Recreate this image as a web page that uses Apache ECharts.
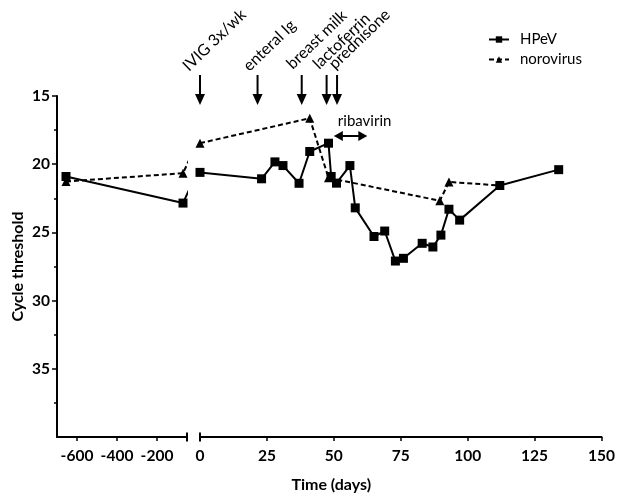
<!DOCTYPE html>
<html>
<head>
<meta charset="utf-8">
<script src="https://cdn.jsdelivr.net/npm/echarts@6/dist/echarts.min.js"></script>
<style>
html,body{margin:0;padding:0;background:#fff;}
#c{width:618px;height:496px;}
</style>
</head>
<body>
<div id="c"></div>
<script>
// ---- data ----
const hpevDays = [-655, -70, 0, 23, 28, 31, 37, 41, 48, 49, 51, 56, 58, 65, 69, 73, 76, 83, 87, 90, 93, 97, 112, 134];
const hpevCt   = [20.9, 22.85, 20.6, 21.07, 19.83, 20.1, 21.4, 19.07, 18.46, 20.9, 21.39, 20.1, 23.2, 25.3, 24.9, 27.1, 26.9, 25.8, 26.07, 25.2, 23.3, 24.1, 21.56, 20.4];
const noroDays = [-655, -70, 0, 41, 48, 89.6, 93, 112];
const noroCt   = [21.27, 20.66, 18.46, 16.63, 21.0, 22.68, 21.3, 21.56];
const leftTicks  = [-600, -400, -200];
const yLabels    = [15, 20, 25, 30, 35];
const eventLabels = ['IVIG 3x/wk', 'enteral Ig', 'breast milk', 'lactoferrin', 'prednisone'];
const eventDays   = [0, 21.5, 38, 47.3, 51.2];
const ribavirinDays = [50, 62.5];

// ---- layout ----
const FONT = 'Lato';
const labelDx = [-9, -6, -7, -5.5, 0];
const labelY  = [74, 74, 72, 72, 72];

function toPts(days, ct) { return days.map((d, i) => [d, ct[i]]); }
function leftPart(pts) {
  const firstRight = pts.findIndex(p => p[0] >= 0);
  return pts.slice(0, firstRight + 1);
}
function rightPart(pts) { return pts.filter(p => p[0] >= 0); }

const hpevPts = toPts(hpevDays, hpevCt);
const noroPts = toPts(noroDays, noroCt);

const chart = echarts.init(document.getElementById('c'), null, {renderer: 'canvas'});

const axisLineStyle = {color: '#000', width: 2};
const labelStyle = {color: '#000', fontWeight: 'bold', fontSize: 15.5, fontFamily: FONT};

function yAxisDef(idx, show) {
  return {
    type: 'value', gridIndex: idx, min: 15, max: 40, interval: 5, inverse: true,
    show: show,
    name: show ? 'Cycle threshold' : '',
    nameLocation: 'middle', nameGap: 31,
    nameTextStyle: {color: '#000', fontWeight: 'bold', fontSize: 16, fontFamily: FONT},
    axisLine: {show: true, lineStyle: axisLineStyle},
    axisTick: {show: true, length: 5, customValues: yLabels, lineStyle: {color: '#000', width: 1.5}},
    minorTick: {show: true, splitNumber: 2, length: 3, lineStyle: {color: '#000', width: 1.5}},
    axisLabel: Object.assign({customValues: yLabels, margin: 7}, labelStyle),
    splitLine: {show: false}
  };
}

const solid = {color: '#000', width: 2};
const dashed = {color: '#000', width: 2, type: [5, 3]};

function series(name, data, idx, sym, ls) {
  return {
    name: name, type: 'line', xAxisIndex: idx, yAxisIndex: idx, data: data,
    symbol: sym, symbolSize: 9,
    showSymbol: true, clip: true, animation: false,
    lineStyle: ls, itemStyle: {color: '#000'},
    emphasis: {disabled: true}
  };
}

const option = {
  animation: false,
  backgroundColor: '#fff',
  grid: [
    {left: 57, top: 96, width: 130, height: 341},
    {left: 200, top: 96, width: 402, height: 341}
  ],
  xAxis: [
    {
      type: 'value', gridIndex: 0, min: -700, max: -50,
      axisLine: {lineStyle: axisLineStyle},
      axisTick: {show: true, length: 4, customValues: leftTicks, lineStyle: {color: '#000', width: 1.5}},
      axisLabel: Object.assign({customValues: leftTicks, margin: 11}, labelStyle),
      splitLine: {show: false}
    },
    {
      type: 'value', gridIndex: 1, min: 0, max: 150, interval: 25,
      axisLine: {lineStyle: axisLineStyle},
      axisTick: {show: true, length: 4, lineStyle: {color: '#000', width: 1.5}},
      axisLabel: Object.assign({margin: 11, showMinLabel: true, showMaxLabel: true}, labelStyle),
      splitLine: {show: false}
    }
  ],
  yAxis: [yAxisDef(0, true), yAxisDef(1, false)],
  legend: {
    orient: 'vertical', left: 483, top: 27,
    itemWidth: 20, itemHeight: 8, itemGap: 5,
    textStyle: {color: '#000', fontSize: 15, fontFamily: FONT, lineHeight: 15, padding: [0, 0, 0, 6]},
    data: ['HPeV', 'norovirus'],
    selectedMode: false
  },
  series: [
    series('norovirus', leftPart(noroPts), 0, 'triangle', dashed),
    series('HPeV', leftPart(hpevPts), 0, 'rect', solid),
    series('norovirus', rightPart(noroPts), 1, 'triangle', dashed),
    series('HPeV', rightPart(hpevPts), 1, 'rect', solid)
  ]
};
chart.setOption(option);

// ---- annotations ----
const g = [];
const axisY = chart.convertToPixel({yAxisIndex: 0}, 40);
const brkL = chart.convertToPixel({xAxisIndex: 0}, -50);
const brkR = chart.convertToPixel({xAxisIndex: 1}, 0);
[brkL, brkR].forEach(x => {
  g.push({type: 'line', shape: {x1: x, y1: axisY - 4.5, x2: x, y2: axisY + 4.5}, style: {stroke: '#000', lineWidth: 2}});
});

const ANG = 44 * Math.PI / 180;
eventDays.forEach((d, i) => {
  const x = chart.convertToPixel({xAxisIndex: 1}, d);
  g.push({type: 'line', shape: {x1: x, y1: 75, x2: x, y2: 96}, style: {stroke: '#000', lineWidth: 2}});
  g.push({type: 'polygon', shape: {points: [[x - 5, 94], [x + 5, 94], [x, 105]]}, style: {fill: '#000'}});
  g.push({
    type: 'text', x: x + labelDx[i], y: labelY[i], rotation: ANG,
    style: {text: eventLabels[i], fill: '#000', fontSize: 16, fontFamily: FONT, align: 'left', verticalAlign: 'bottom'}
  });
});

const rx1 = chart.convertToPixel({xAxisIndex: 1}, ribavirinDays[0]);
const rx2 = chart.convertToPixel({xAxisIndex: 1}, ribavirinDays[1]);
const ry = 136;
g.push({type: 'line', shape: {x1: rx1 + 5, y1: ry, x2: rx2 - 5, y2: ry}, style: {stroke: '#000', lineWidth: 2}});
g.push({type: 'polygon', shape: {points: [[rx1, ry], [rx1 + 9, ry - 5], [rx1 + 9, ry + 5]]}, style: {fill: '#000'}});
g.push({type: 'polygon', shape: {points: [[rx2, ry], [rx2 - 9, ry - 5], [rx2 - 9, ry + 5]]}, style: {fill: '#000'}});
g.push({type: 'text', x: rx1 + 4, y: 121, style: {text: 'ribavirin', fill: '#000', fontSize: 15, fontFamily: FONT, align: 'left', verticalAlign: 'middle'}});

const xl = chart.convertToPixel({xAxisIndex: 0}, -700);
const xr = chart.convertToPixel({xAxisIndex: 1}, 150);
g.push({type: 'text', x: (xl + xr) / 2 + 2, y: 485, style: {text: 'Time (days)', fill: '#000', fontSize: 16, fontWeight: 'bold', fontFamily: FONT, align: 'center', verticalAlign: 'middle'}});

chart.setOption({graphic: g});
</script>
</body>
</html>
